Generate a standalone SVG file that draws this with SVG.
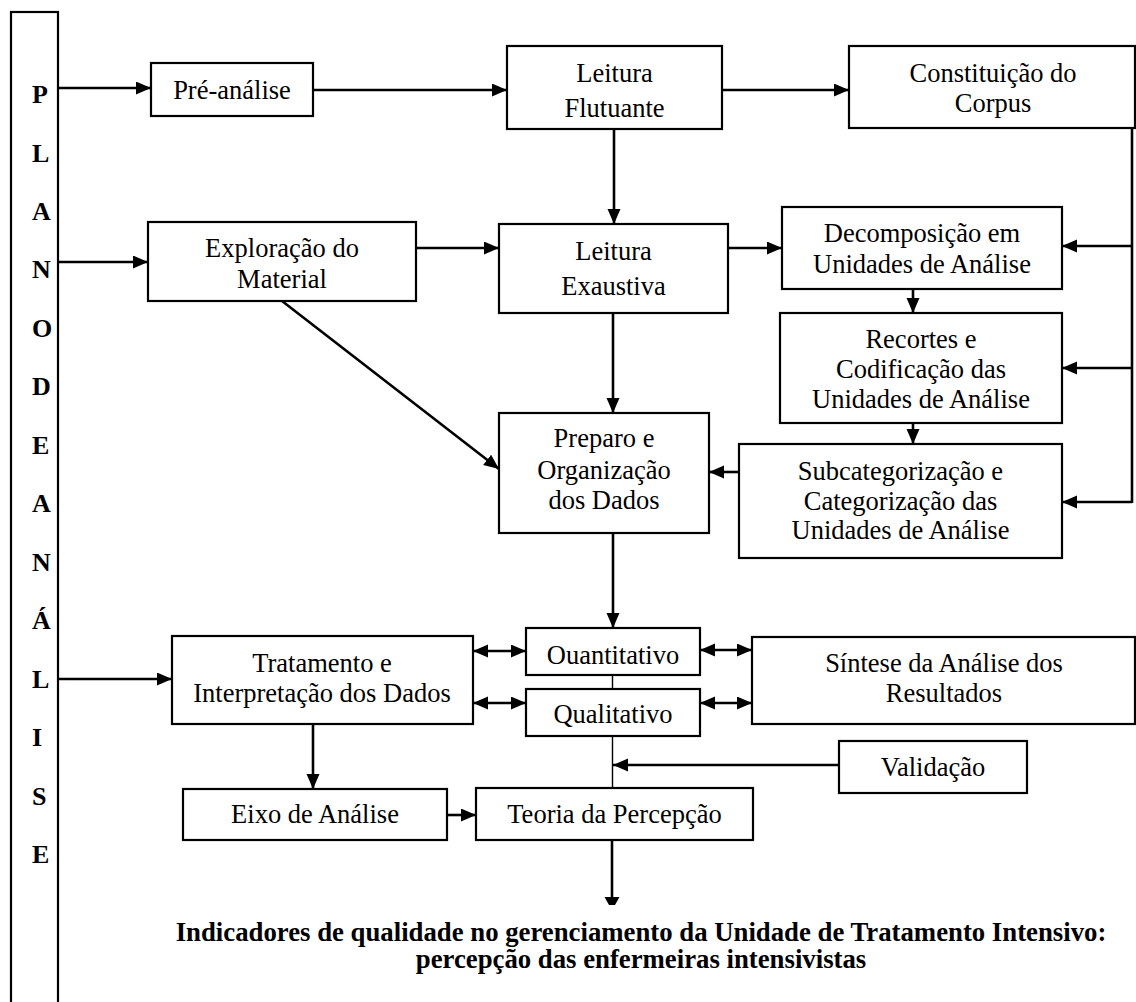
<svg xmlns="http://www.w3.org/2000/svg" width="1136" height="1002" viewBox="0 0 1136 1002">
<style>
.box{fill:#fff;stroke:#000;stroke-width:2.2}
.t{font-family:"Liberation Serif","Times New Roman",serif;font-size:26.5px;fill:#000;text-anchor:middle}
.b{font-family:"Liberation Serif","Times New Roman",serif;font-size:26px;font-weight:bold;fill:#000}
.h{font-family:"Liberation Serif","Times New Roman",serif;font-size:26.75px;font-weight:bold;fill:#000;text-anchor:middle}
.c{fill:none;stroke:#000;stroke-width:2.6}
.a{fill:none;stroke:#000;stroke-width:2.6;marker-end:url(#ah)}
.d{fill:none;stroke:#000;stroke-width:2.6;marker-end:url(#ah);marker-start:url(#ah)}
.thin{fill:none;stroke:#000;stroke-width:1.4}
</style>
<defs>
<marker id="ah" markerUnits="userSpaceOnUse" markerWidth="16" markerHeight="14" refX="15" refY="6.5" orient="auto-start-reverse">
<path d="M0,0 L15,6.5 L0,13 z" fill="#000"/>
</marker>
</defs>
<rect width="1136" height="1002" fill="#fff"/>

<g id="plano">
<rect x="11" y="12" width="47" height="1010" class="box"/>
<text class="b" x="32" y="103">P</text>
<text class="b" x="32" y="161.5">L</text>
<text class="b" x="32" y="220">A</text>
<text class="b" x="32" y="278.4">N</text>
<text class="b" x="32" y="336.8">O</text>
<text class="b" x="32" y="395.3">D</text>
<text class="b" x="32" y="453.8">E</text>
<text class="b" x="32" y="512.2">A</text>
<text class="b" x="32" y="570.7">N</text>
<text class="b" x="32" y="629.1">Á</text>
<text class="b" x="32" y="687.6">L</text>
<text class="b" x="32" y="746">I</text>
<text class="b" x="32" y="804.5">S</text>
<text class="b" x="32" y="863">E</text>
</g>

<g id="connectors">
<path class="a" d="M58,88 H151"/>
<path class="a" d="M313,90 H507"/>
<path class="a" d="M722,90 H849"/>
<path class="a" d="M614,129 V224"/>
<path class="a" d="M58,262 H148"/>
<path class="a" d="M416,248 H499"/>
<path class="a" d="M728,248 H782"/>
<path class="c" d="M1132,128 V503"/>
<path class="a" d="M1132,246 H1062"/>
<path class="a" d="M1132,368 H1062"/>
<path class="a" d="M1132,502 H1062"/>
<path class="a" d="M913,289 V313"/>
<path class="a" d="M913,423 V444"/>
<path class="a" d="M739,472 H709"/>
<path class="a" d="M613,313 V413"/>
<path class="a" d="M282,301 L499,469"/>
<path class="a" d="M613,533 V628"/>
<path class="thin" d="M612.5,675 V689"/>
<path class="thin" d="M612.5,736 V788"/>
<path class="a" d="M839,765 H613"/>
<path class="d" d="M473,651 H526"/>
<path class="d" d="M473,703 H526"/>
<path class="d" d="M700,650 H752"/>
<path class="d" d="M700,703 H752"/>
<path class="a" d="M58,679 H172"/>
<path class="a" d="M313,724 V789"/>
<path class="a" d="M447,815 H476"/>
<path class="c" d="M612,840 V898"/>
<polygon points="604.5,897 619.5,897 615,905 609,905" fill="#000"/>
</g>

<g id="pre-analise">
<rect x="151" y="63" width="162" height="53" class="box"/>
<text class="t" x="232" y="99">Pré-análise</text>
</g>
<g id="leitura-flutuante">
<rect x="507" y="46" width="215" height="83" class="box"/>
<text class="t" x="614.5" y="82">Leitura</text>
<text class="t" x="614.5" y="116.5">Flutuante</text>
</g>
<g id="constituicao">
<rect x="849" y="46" width="286" height="82" class="box"/>
<text class="t" x="993" y="81.5">Constituição do</text>
<text class="t" x="993" y="112">Corpus</text>
</g>
<g id="exploracao">
<rect x="148" y="222" width="268" height="79" class="box"/>
<text class="t" x="282" y="256.5">Exploração do</text>
<text class="t" x="282" y="288">Material</text>
</g>
<g id="leitura-exaustiva">
<rect x="499" y="224" width="229" height="89" class="box"/>
<text class="t" x="613.5" y="260">Leitura</text>
<text class="t" x="613.5" y="295">Exaustiva</text>
</g>
<g id="decomposicao">
<rect x="782" y="207" width="280" height="82" class="box"/>
<text class="t" x="922" y="242">Decomposição em</text>
<text class="t" x="922" y="273">Unidades de Análise</text>
</g>
<g id="recortes">
<rect x="780" y="313" width="282" height="110" class="box"/>
<text class="t" x="921" y="347.5">Recortes e</text>
<text class="t" x="921" y="378">Codificação das</text>
<text class="t" x="921" y="408">Unidades de Análise</text>
</g>
<g id="subcategorizacao">
<rect x="739" y="444" width="323" height="114" class="box"/>
<text class="t" x="900.5" y="480">Subcategorização e</text>
<text class="t" x="900.5" y="510">Categorização das</text>
<text class="t" x="900.5" y="539">Unidades de Análise</text>
</g>
<g id="preparo">
<rect x="499" y="413" width="210" height="120" class="box"/>
<text class="t" x="604" y="446.5">Preparo e</text>
<text class="t" x="604" y="479">Organização</text>
<text class="t" x="604" y="509">dos Dados</text>
</g>
<g id="tratamento">
<rect x="172" y="636" width="301" height="88" class="box"/>
<text class="t" x="322" y="671.5">Tratamento e</text>
<text class="t" x="322" y="701.5">Interpretação dos Dados</text>
</g>
<g id="quantitativo">
<rect x="526" y="628" width="174" height="47" class="box"/>
<text class="t" x="613" y="664">Ouantitativo</text>
</g>
<g id="qualitativo">
<rect x="526" y="689" width="174" height="47" class="box"/>
<text class="t" x="613" y="723">Qualitativo</text>
</g>
<g id="sintese">
<rect x="752" y="637" width="383" height="87" class="box"/>
<text class="t" x="944" y="671.5">Síntese da Análise dos</text>
<text class="t" x="944" y="701.5">Resultados</text>
</g>
<g id="validacao">
<rect x="839" y="741" width="188" height="52" class="box"/>
<text class="t" x="933" y="775.5">Validação</text>
</g>
<g id="eixo">
<rect x="183" y="789" width="264" height="51" class="box"/>
<text class="t" x="315" y="823">Eixo de Análise</text>
</g>
<g id="teoria">
<rect x="476" y="788" width="277" height="52" class="box"/>
<text class="t" x="614.5" y="823">Teoria da Percepção</text>
</g>
<g id="titulo">
<text class="h" x="641" y="941">Indicadores de qualidade no gerenciamento da Unidade de Tratamento Intensivo:</text>
<text class="h" x="641" y="968">percepção das enfermeiras intensivistas</text>
</g>
</svg>
